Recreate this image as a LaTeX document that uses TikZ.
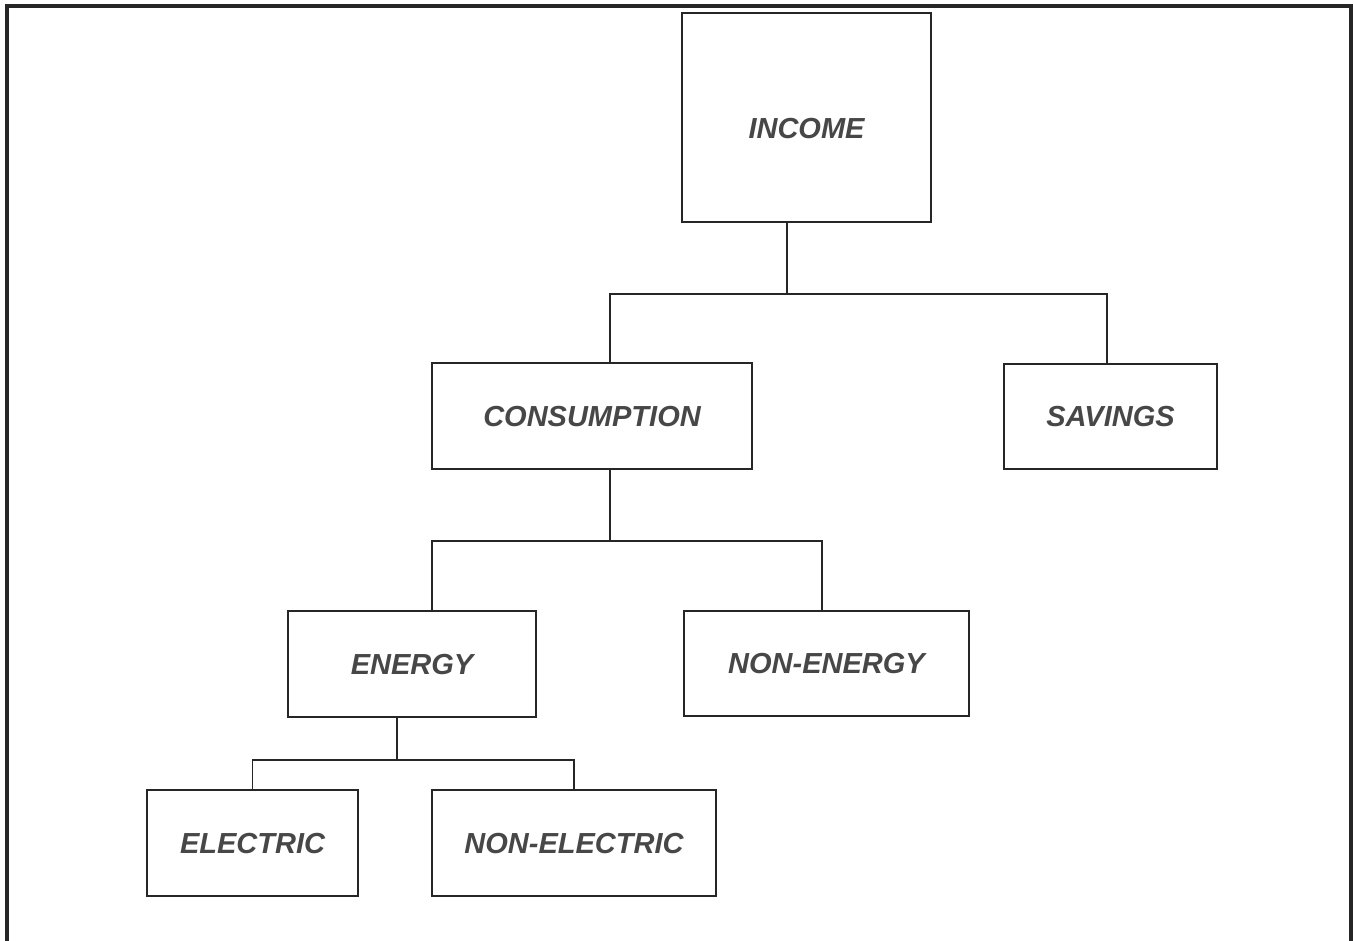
\documentclass[tikz,border=0pt]{standalone}
\usepackage{fontspec}
\setsansfont{Liberation Sans}
\usetikzlibrary{calc}
\newcommand\Fork[4]{%
    \draw[wire] (#2 |- #1.south) -- (#2);%
    \draw[wire] (#3) |- (#2) -| (#4);%
}

\begin{document}
\begin{tikzpicture}[x=0.5pt,y=-0.5pt,
    box/.style={draw=black!85, line width=0.8pt, rectangle, inner sep=0pt,
        text height=10.4pt, text depth=0pt, text=black!72,
        font=\sffamily\bfseries\itshape\fontsize{14.5}{17}\selectfont},
    wire/.style={draw=black!85, line width=0.8pt},
    frame/.style={draw=black!85, line width=1.6pt}]
\useasboundingbox (0,0) rectangle (1354,941);
\draw[frame] (7,941) -- (7,6) -- (1351,6) -- (1351,941);

% the boxes
\node[box, minimum width=124.5pt, minimum height=104.5pt, text height=21pt] (income) at (806.5,117.5) {INCOME};
\node[box, minimum width=160pt, minimum height=53pt] (cons) at (592,416) {CONSUMPTION};
\node[box, minimum width=106.5pt, minimum height=52.5pt] (sav) at (1110.5,416.5) {SAVINGS};
\node[box, minimum width=124pt, minimum height=53pt] (energy) at (412,664) {ENERGY};
\node[box, minimum width=142.5pt, minimum height=52.5pt] (nonen) at (826.5,663.5) {NON-ENERGY};
\node[box, minimum width=105.5pt, minimum height=53pt] (elec) at (252.5,843) {ELECTRIC};
\node[box, minimum width=142pt, minimum height=53pt] (nonel) at (574,843) {NON-ELECTRIC};

% the forks
\coordinate (bar1) at (787,294);
\coordinate (bar2) at (610,541);
\coordinate (bar3) at (397,760);
\Fork{income}{bar1}{[xshift=9pt]cons.north}{[xshift=-1.75pt]sav.north}
\Fork{cons}{bar2}{[xshift=10pt]energy.north}{[xshift=-2.25pt]nonen.north}
\Fork{energy}{bar3}{elec.north}{nonel.north}
\end{tikzpicture}
\end{document}
